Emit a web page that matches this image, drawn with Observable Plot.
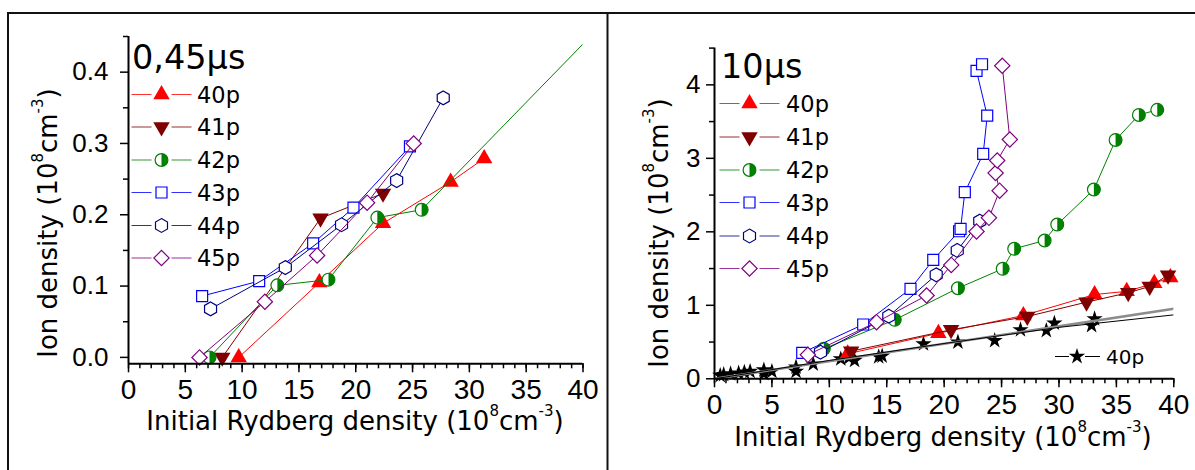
<!DOCTYPE html>
<html><head><meta charset="utf-8">
<script src="https://cdn.jsdelivr.net/npm/d3@7"></script>
<script src="https://cdn.jsdelivr.net/npm/@observablehq/plot@0.6"></script>
<style>
html,body{margin:0;padding:0;background:#fff;}
#wrap{position:relative;width:1195px;height:470px;overflow:hidden;background:#fff;}
#left,#right{position:absolute;top:0;}
#left{left:0;}
#right{left:600px;}
#overlay{position:absolute;left:0;top:0;}
</style></head><body>
<div id="wrap"><div id="left"></div><div id="right"></div><svg id="overlay" width="1195" height="470"></svg></div>
<script>
// ---------- tick labels ----------
const xTicks = [0, 5, 10, 15, 20, 25, 30, 35, 40];
const leftYTicks = [0, 0.1, 0.2, 0.3, 0.4];
const rightYTicks = [0, 1, 2, 3, 4];
const seriesNames = ["40p", "41p", "42p", "43p", "44p", "45p"];
const leftTitle = "0,45μs";
const rightTitle = "10μs";

// ---------- panel 1: 0,45 µs ----------
const a40x = [9.7, 16.8, 22.4, 28.35, 31.3];
const a40y = [0.0, 0.105, 0.188, 0.246, 0.279];
const a41x = [8.25, 16.9, 22.4];
const a41y = [0.0, 0.195, 0.23];
const a42x = [7.13, 13.1, 17.6, 21.9, 25.8, 44.0];
const a42y = [0.0, 0.101, 0.109, 0.196, 0.207, 0.505];
const a43x = [6.48, 11.5, 16.25, 19.8, 24.77];
const a43y = [0.086, 0.107, 0.16, 0.21, 0.296];
const a44x = [7.22, 13.8, 18.75, 23.6, 27.7];
const a44y = [0.068, 0.126, 0.186, 0.248, 0.364];
const a45x = [6.25, 12.0, 16.6, 21.0, 25.1];
const a45y = [0.0, 0.078, 0.143, 0.217, 0.30];

// ---------- panel 2: 10 µs ----------
const b40x = [11.6, 19.5, 26.9, 33.1, 35.9, 38.3, 39.7];
const b40y = [0.34, 0.62, 0.861, 1.147, 1.19, 1.30, 1.38];
const b41x = [11.9, 20.6, 27.24, 32.4, 36.03, 37.9, 39.5];
const b41y = [0.376, 0.667, 0.848, 1.043, 1.171, 1.256, 1.41];
const b42x = [9.52, 15.7, 21.2, 25.1, 26.1, 28.75, 29.85, 33.04, 34.93, 36.96, 38.56];
const b42y = [0.408, 0.803, 1.233, 1.497, 1.769, 1.882, 2.099, 2.576, 3.25, 3.59, 3.66];
const b43x = [7.64, 12.95, 17.07, 19.05, 21.3, 21.43, 21.8, 23.4, 23.75, 22.82, 23.3];
const b43y = [0.354, 0.739, 1.224, 1.619, 2.008, 2.04, 2.54, 3.06, 3.58, 4.19, 4.28];
const b44x = [9.23, 15.18, 19.31, 21.14, 23.1];
const b44y = [0.362, 0.852, 1.415, 1.746, 2.145];
const b45x = [8.13, 14.11, 18.47, 20.62, 22.82, 23.9, 24.83, 24.48, 24.62, 25.72, 25.06];
const b45y = [0.326, 0.771, 1.133, 1.55, 2.004, 2.19, 2.56, 2.80, 2.97, 3.256, 4.26];
const starX = [0.5, 0.8, 1.4, 2.1, 2.6, 3.1, 4.3, 5.0, 4.3, 7.1, 7.1, 8.6, 11.0, 11.7, 12.2, 14.3, 14.6, 18.2, 21.2, 24.4, 26.65, 28.9, 29.6, 32.84, 33.1];
const starY = [0.045, 0.058, 0.068, 0.077, 0.09, 0.10, 0.12, 0.10, 0.07, 0.16, 0.10, 0.20, 0.27, 0.286, 0.25, 0.30, 0.31, 0.475, 0.50, 0.52, 0.667, 0.657, 0.757, 0.725, 0.816];
const greyFitX = [0, 40];
const greyFitY = [0, 0.952];
const blackFitX = [0, 10, 20, 30, 40];
const blackFitY = [0, 0.25, 0.48, 0.70, 0.87];
const starLegend = "40p";

// ---------- styling ----------
const colors = {"40p": "#ff0000", "41p": "#800000", "42p": "#008000", "43p": "#0000ff", "44p": "#000080", "45p": "#800080"};
const kinds = {"40p": "triUp", "41p": "triDown", "42p": "half", "43p": "square", "44p": "hex", "45p": "diamond"};
const radii = {triUp: 6.1, triDown: 6.1, half: 6.4, square: 6.2, hex: 6.3, diamond: 6.1, star: 5.1};

const hexagon = {draw(ctx, size) {
  const r = Math.sqrt(size / (3 * Math.sqrt(3) / 2));
  for (let i = 0; i < 6; i++) {
    const a = Math.PI / 3 * i - Math.PI / 2;
    const x = r * Math.cos(a), y = r * Math.sin(a);
    if (i) ctx.lineTo(x, y); else ctx.moveTo(x, y);
  }
  ctx.closePath();
}};
const halfDisk = {draw(ctx, size) {
  const r = Math.sqrt(size / Math.PI);
  ctx.moveTo(0, -r);
  ctx.arc(0, 0, r, -Math.PI / 2, Math.PI / 2);
  ctx.closePath();
}};

const zipXY = (xs, ys) => xs.map((x, i) => ({x, y: ys[i]}));

function dotMarks(data, name) {
  const c = colors[name];
  const k = kinds[name];
  const r = radii[k];
  const d = data.filter(p => p.x <= 40);
  switch (k) {
    case "triUp": return [Plot.dot(d, {x: "x", y: "y", symbol: "triangle", r, fill: c})];
    case "triDown": return [Plot.dot(d, {x: "x", y: "y", symbol: "triangle", r, rotate: 180, fill: c})];
    case "half": return [
      Plot.dot(d, {x: "x", y: "y", r, fill: "white", stroke: c, strokeWidth: 1.2}),
      Plot.dot(d, {x: "x", y: "y", symbol: halfDisk, r, fill: c})
    ];
    case "square": return [Plot.dot(d, {x: "x", y: "y", symbol: "square", r, fill: "white", stroke: c, strokeWidth: 1.2})];
    case "hex": return [Plot.dot(d, {x: "x", y: "y", symbol: hexagon, r, fill: "white", stroke: c, strokeWidth: 1.2})];
    case "diamond": return [Plot.dot(d, {x: "x", y: "y", symbol: "square", r, rotate: 45, fill: "white", stroke: c, strokeWidth: 1.2})];
  }
}

function seriesMarks(list) {
  const out = [];
  for (const [name, data] of list) {
    out.push(Plot.line(data, {x: "x", y: "y", stroke: colors[name], strokeWidth: 1, clip: true}));
    out.push(...dotMarks(data, name));
  }
  return out;
}

const xMinor = d3.range(0, 41, 1);

function panel(o) {
  return Plot.plot({
    width: o.width, height: 470,
    marginLeft: o.ml, marginRight: o.mr, marginTop: o.mt, marginBottom: o.mb,
    x: {domain: [0, 40]},
    y: {domain: o.yDomain},
    style: {background: "transparent", color: "black", fontFamily: "'Liberation Sans', Arial, sans-serif", fontSize: "26px", overflow: "visible"},
    marks: [
      Plot.axisX({ticks: xMinor, tickSize: 5, tickFormat: () => "", label: null, strokeWidth: 1.5}),
      Plot.axisX({ticks: xTicks, tickSize: 9, tickPadding: 6, label: null, fontSize: 28, strokeWidth: 1.5, tickFormat: d => String(d)}),
      Plot.axisY({ticks: o.yMinor, tickSize: 5, tickFormat: () => "", label: null, strokeWidth: 1.5}),
      Plot.axisY({ticks: o.yTicks, tickSize: 8, tickPadding: o.padY, label: null, fontSize: 26, strokeWidth: 1.5, tickFormat: o.fmt}),
      ...o.extraBelow,
      ...seriesMarks(o.series),
      ...o.extraAbove,
      Plot.ruleY([o.yDomain[0]], {strokeWidth: 2}),
      Plot.ruleX([0], {strokeWidth: 2})
    ]
  });
}

const leftSeries = [
  ["40p", zipXY(a40x, a40y)], ["41p", zipXY(a41x, a41y)], ["42p", zipXY(a42x, a42y)],
  ["43p", zipXY(a43x, a43y)], ["44p", zipXY(a44x, a44y)], ["45p", zipXY(a45x, a45y)]
];
const rightSeries = [
  ["40p", zipXY(b40x, b40y)], ["41p", zipXY(b41x, b41y)], ["42p", zipXY(b42x, b42y)],
  ["43p", zipXY(b43x, b43y)], ["44p", zipXY(b44x, b44y)], ["45p", zipXY(b45x, b45y)]
];

document.getElementById("left").appendChild(panel({
  width: 600, ml: 128, mr: 17.5, mt: 36, mb: 106.7,
  yDomain: [-0.009, 0.45], yTicks: leftYTicks, yMinor: [0.05, 0.15, 0.25, 0.35, 0.45],
  fmt: d3.format(".1f"), padY: 12,
  series: leftSeries, extraBelow: [], extraAbove: []
}));

document.getElementById("right").appendChild(panel({
  width: 595, ml: 114, mr: 21.7, mt: 47.6, mb: 91.7,
  yDomain: [0, 4.5], yTicks: rightYTicks, yMinor: [0.5, 1.5, 2.5, 3.5, 4.5],
  fmt: d3.format("d"), padY: 6,
  series: rightSeries,
  extraBelow: [
    Plot.dot(zipXY(starX, starY), {x: "x", y: "y", symbol: "star", r: radii.star, fill: "black"})
  ],
  extraAbove: [
    Plot.line(zipXY(greyFitX, greyFitY), {x: "x", y: "y", stroke: "#8c8c8c", strokeWidth: 2.5, clip: true}),
    Plot.line(zipXY(blackFitX, blackFitY), {x: "x", y: "y", stroke: "black", strokeWidth: 1, clip: true})
  ]
}));

// ---------- overlay: frame, titles, legends, axis titles ----------
const ov = d3.select("#overlay");
const FONT = "'DejaVu Sans', sans-serif";
ov.append("path").attr("d", "M8,470V13H1195M607.5,13V470").attr("fill", "none").attr("stroke", "#111").attr("stroke-width", 2);

function title(x, y, t) {
  ov.append("text").attr("x", x).attr("y", y).attr("font-family", FONT).attr("font-size", 33.5).attr("fill", "black").text(t);
}
title(132, 69, leftTitle);
title(721, 77.5, rightTitle);

function symPath(kind, r) {
  const size = Math.PI * r * r;
  const map = {triUp: d3.symbolTriangle, triDown: d3.symbolTriangle, square: d3.symbolSquare, diamond: d3.symbolSquare, hex: hexagon, star: d3.symbolStar};
  return d3.symbol(map[kind], size)();
}
function legendMarker(g, kind, color, cx, cy) {
  const r = radii[kind];
  const t = `translate(${cx},${cy})`;
  if (kind === "half") {
    g.append("circle").attr("cx", cx).attr("cy", cy).attr("r", r).attr("fill", "white").attr("stroke", color).attr("stroke-width", 1.2);
    g.append("path").attr("d", d3.symbol(halfDisk, Math.PI * r * r)()).attr("transform", t).attr("fill", color);
    return;
  }
  const filled = kind === "triUp" || kind === "triDown" || kind === "star";
  const rot = kind === "triDown" ? " rotate(180)" : kind === "diamond" ? " rotate(45)" : "";
  g.append("path").attr("d", symPath(kind, r)).attr("transform", t + rot)
    .attr("fill", filled ? color : "white").attr("stroke", filled ? "none" : color).attr("stroke-width", 1.2);
}
function legend(x0, rows, labelX, fontSize) {
  seriesNames.forEach((name, i) => {
    const cy = rows[i];
    const c = colors[name];
    const g = ov.append("g");
    g.append("path").attr("d", `M${x0},${cy}H${x0 + 20}M${x0 + 40},${cy}H${x0 + 60}`).attr("stroke", c).attr("stroke-width", 1.2).attr("opacity", 0.8);
    legendMarker(g, kinds[name], c, x0 + 30, cy);
    g.append("text").attr("x", labelX).attr("y", cy + 8).attr("font-family", FONT).attr("font-size", fontSize).attr("fill", "black").text(name);
  });
}
legend(131.5, [94.5, 127, 160, 192.5, 225.5, 258], 197, 22.5);
legend(719.5, [103.5, 137, 170, 202.5, 236, 268.5], 786, 22.5);

// star legend
{
  const g = ov.append("g");
  g.append("path").attr("d", "M1055,356.5H1069M1085,356.5H1100").attr("stroke", "black").attr("stroke-width", 1);
  legendMarker(g, "star", "black", 1077, 356.5);
  g.append("text").attr("x", 1106).attr("y", 364).attr("font-family", FONT).attr("font-size", 20).attr("fill", "black").text(starLegend);
}

function axisTitle(base, x, y, rotate) {
  const t = ov.append("text").attr("font-family", FONT).attr("font-size", 26).attr("fill", "black").attr("text-anchor", "middle")
    .attr("transform", `translate(${x},${y})` + (rotate ? " rotate(-90)" : ""));
  t.append("tspan").text(base + " (10");
  t.append("tspan").attr("font-size", 15).attr("dy", -14).text("8");
  t.append("tspan").attr("dy", 14).text("cm");
  t.append("tspan").attr("font-size", 15).attr("dy", -14).text("-3");
  t.append("tspan").attr("dy", 14).text(")");
}
axisTitle("Initial Rydberg density", 355, 430, false);
axisTitle("Initial Rydberg density", 943, 446, false);
axisTitle("Ion density", 57, 223, true);
axisTitle("Ion density", 668, 233, true);
</script>
</body></html>
